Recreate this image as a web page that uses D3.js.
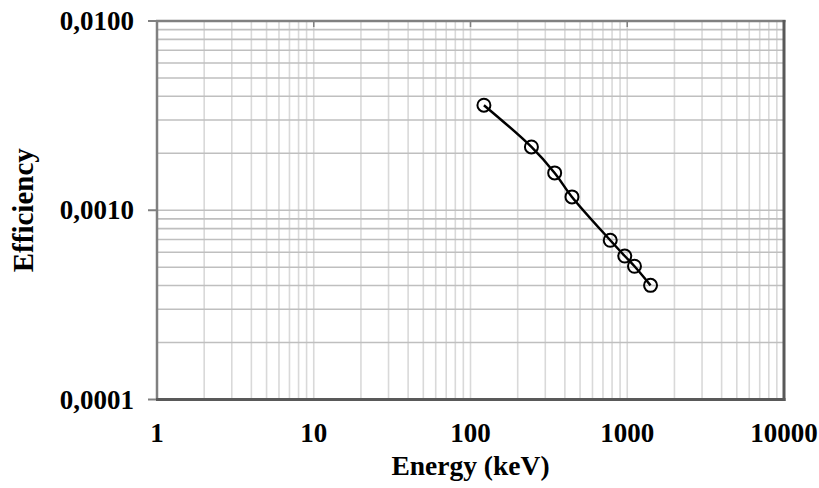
<!DOCTYPE html>
<html>
<head>
<meta charset="utf-8">
<script src="https://cdn.jsdelivr.net/npm/d3@7"></script>
<style>
  html, body { margin: 0; padding: 0; background: #fff; }
  svg { display: block; }
  text { font-family: "Liberation Serif", "Times New Roman", serif; font-weight: bold; fill: #000; }
</style>
</head>
<body>
<svg id="chart" width="819" height="488"></svg>
<script>
// Data (Energy keV, Efficiency)
const energies = [121.8, 244.7, 344.3, 443.9, 778.9, 964.1, 1112.1, 1408.0];
const efficiencies = [0.00359, 0.00216, 0.001575, 0.001176, 0.000694, 0.000573, 0.000506, 0.000401];
const xTickValues = [1, 10, 100, 1000, 10000];
const xTickLabels = ["1", "10", "100", "1000", "10000"];
const yTickValues = [0.0001, 0.001, 0.01];
const yTickLabels = ["0,0001", "0,0010", "0,0100"];

const svg = d3.select("#chart");
const pL = 157, pR = 784, pT = 21, pB = 399.5;

const x = d3.scaleLog().domain([1, 10000]).range([pL, pR]);
const y = d3.scaleLog().domain([0.0001, 0.01]).range([pB, pT]);

// minor values
const xMinor = [];
for (let d = 1; d < 10000; d *= 10) for (let k = 2; k <= 9; k++) xMinor.push(d * k);
const yMinor = [];
for (let d = 0.0001; d < 0.01 - 1e-12; d *= 10) for (let k = 2; k <= 9; k++) yMinor.push(d * k);

const g = svg.append("g");

// vertical gridlines (light)
g.selectAll("line.vx").data(xMinor.concat([10, 100, 1000])).enter().append("line")
  .attr("x1", d => x(d)).attr("x2", d => x(d))
  .attr("y1", pT).attr("y2", pB)
  .attr("stroke", "#d9d9d9").attr("stroke-width", 1.6);

// horizontal gridlines (medium)
g.selectAll("line.hy").data(yMinor.concat([0.001])).enter().append("line")
  .attr("x1", pL).attr("x2", pR)
  .attr("y1", d => y(d)).attr("y2", d => y(d))
  .attr("stroke", "#bfbfbf").attr("stroke-width", 1.6);

// top inner ticks at decades
g.selectAll("line.tt").data([10, 100, 1000]).enter().append("line")
  .attr("x1", d => x(d)).attr("x2", d => x(d))
  .attr("y1", pT).attr("y2", pT + 6)
  .attr("stroke", "#808080").attr("stroke-width", 1.5);

// left outer ticks
g.selectAll("line.lt").data(yTickValues).enter().append("line")
  .attr("x1", pL - 9).attr("x2", pL)
  .attr("y1", d => y(d)).attr("y2", d => y(d))
  .attr("stroke", "#808080").attr("stroke-width", 2);

// frame
g.append("line").attr("x1", pL).attr("x2", pL).attr("y1", pT - 1).attr("y2", pB)
  .attr("stroke", "#808080").attr("stroke-width", 2.5);
g.append("line").attr("x1", pL - 1).attr("x2", pR + 1.5).attr("y1", pT).attr("y2", pT)
  .attr("stroke", "#808080").attr("stroke-width", 2.5);
g.append("line").attr("x1", pR).attr("x2", pR).attr("y1", pT - 1).attr("y2", pB + 1.5)
  .attr("stroke", "#595959").attr("stroke-width", 3);
g.append("line").attr("x1", pL - 1).attr("x2", pR + 1.5).attr("y1", pB).attr("y2", pB)
  .attr("stroke", "#595959").attr("stroke-width", 3);

// x tick labels
g.selectAll("text.xl").data(xTickValues).enter().append("text")
  .attr("x", d => x(d)).attr("y", 442)
  .attr("text-anchor", "middle").attr("font-size", 27)
  .text((d, i) => xTickLabels[i]);

// y tick labels
g.selectAll("text.yl").data(yTickValues).enter().append("text")
  .attr("x", 134).attr("y", d => y(d) + 9)
  .attr("text-anchor", "end").attr("font-size", 27)
  .text((d, i) => yTickLabels[i]);

// axis titles
g.append("text").attr("x", (pL + pR) / 2).attr("y", 475)
  .attr("text-anchor", "middle").attr("font-size", 27.5).text("Energy (keV)");
g.append("text").attr("transform", `translate(33, ${(pT + pB) / 2}) rotate(-90)`)
  .attr("text-anchor", "middle").attr("font-size", 29).text("Efficiency");

// fitted curve
const pts = energies.map((e, i) => [x(e), y(efficiencies[i])]);
g.append("path").attr("d", d3.line().curve(d3.curveCatmullRom.alpha(0.5))(pts))
  .attr("fill", "none").attr("stroke", "#000").attr("stroke-width", 2.5);

// markers
g.selectAll("circle").data(energies).enter().append("circle")
  .attr("cx", d => x(d)).attr("cy", (d, i) => y(efficiencies[i]))
  .attr("r", 6.5).attr("fill", "none").attr("stroke", "#000").attr("stroke-width", 2);
</script>
</body>
</html>
